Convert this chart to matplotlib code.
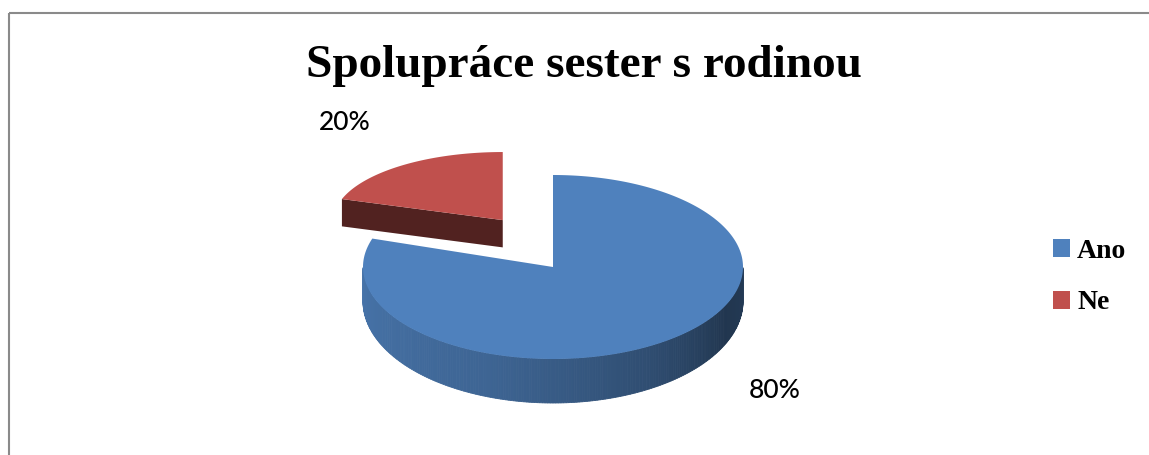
import matplotlib.pyplot as plt
import numpy as np
from matplotlib.patches import Polygon, Rectangle, Patch
from matplotlib.colors import to_rgb

# data
labels = ['Ano', 'Ne']
values = [80, 20]
pct_labels = ['80%', '20%']
colors = ['#4F81BD', '#C0504D']

W, H = 1149, 455
fig = plt.figure(figsize=(W / 100, H / 100), dpi=100)
ax = fig.add_axes([0, 0, 1, 1])
ax.set_xlim(0, W)
ax.set_ylim(H, 0)
ax.axis('off')

# pie geometry (pixels) - fake 3D with ellipses
cx, cy, a, b, depth = 553, 267, 190, 92, 44
explode = [0, 0.45]
sx = [1.0, 0.89]       # slice further back looks smaller / flatter
sy = [1.0, 0.74]
depth_k = [1.0, 0.62]


def shade(c, f):
    return tuple(np.array(to_rgb(c)) * f)


def pt(x0, y0, t, i):
    return x0 + sx[i] * a * np.cos(t), y0 - sy[i] * b * np.sin(t)


# slices clockwise from 12 o'clock
fracs = np.array(values) / sum(values)
angles = []
start = 90
for f in fracs:
    angles.append((start - 360 * f, start))
    start -= 360 * f

for i in [1, 0]:
    t1, t2 = np.radians(angles[i])
    mid = (t1 + t2) / 2
    ox = cx + explode[i] * a * np.cos(mid)
    oy = cy - explode[i] * 1.4 * b * np.sin(mid)
    d = depth * depth_k[i]

    # radial faces that point to the viewer
    for t, vis in [(t1, np.cos(t1) > 1e-6), (t2, np.cos(t2) < -1e-6)]:
        if vis:
            x, y = pt(ox, oy, t, i)
            ax.add_patch(Polygon([(ox, oy), (x, y), (x, y + d), (ox, oy + d)],
                                 fc=shade(colors[i], 0.42), ec='none'))

    # outer side (front half only), shaded left->right, thicker at the front
    ts = np.linspace(t1, t2, 361)
    for k in range(len(ts) - 1):
        if np.sin(ts[k]) < 0 and np.sin(ts[k + 1]) <= 0:
            deg = np.degrees(ts[k]) % 360
            f = np.interp(deg, [180, 250, 300, 335, 360], [0.9, 0.78, 0.6, 0.42, 0.45])
            xa, ya = pt(ox, oy, ts[k], i)
            xb, yb = pt(ox, oy, ts[k + 1], i)
            da = d * (1 - 0.22 * (1 + np.sin(ts[k])))
            db = d * (1 - 0.22 * (1 + np.sin(ts[k + 1])))
            c = shade(colors[i], f)
            ax.add_patch(Polygon([(xa, ya), (xb, yb), (xb, yb + db), (xa, ya + da)],
                                 fc=c, ec=c, lw=0.6))

    # top surface
    xs, ys = pt(ox, oy, ts, i)
    ax.add_patch(Polygon(np.column_stack([np.r_[ox, xs], np.r_[oy, ys]]),
                         fc=colors[i], ec='none'))

# percent labels
ax.text(775, 390, pct_labels[0], fontsize=19, family='Lato', weight='medium',
        ha='center', va='center')
ax.text(345, 122, pct_labels[1], fontsize=19, family='Lato', weight='medium',
        ha='center', va='center')

ax.text(584, 66, 'Spolupráce sester s rodinou', fontsize=34, family='Liberation Serif',
        weight='bold', ha='center', va='center')

handles = [Patch(fc=c, ec='none') for c in colors]
ax.legend(handles, labels, loc='upper left', bbox_to_anchor=(1053 / W, 1 - 239 / H),
          frameon=False, prop=dict(family='Liberation Serif', weight='bold', size=20),
          handlelength=0.62, handleheight=0.62, handletextpad=0.25, labelspacing=0.95,
          borderpad=0, borderaxespad=0)

# chart border (cut off at right/bottom)
ax.add_patch(Rectangle((9, 12.5), 1300, 600, fill=False, ec='#8a8a8a', lw=1.5))

fig.savefig('out.png', dpi=100)
